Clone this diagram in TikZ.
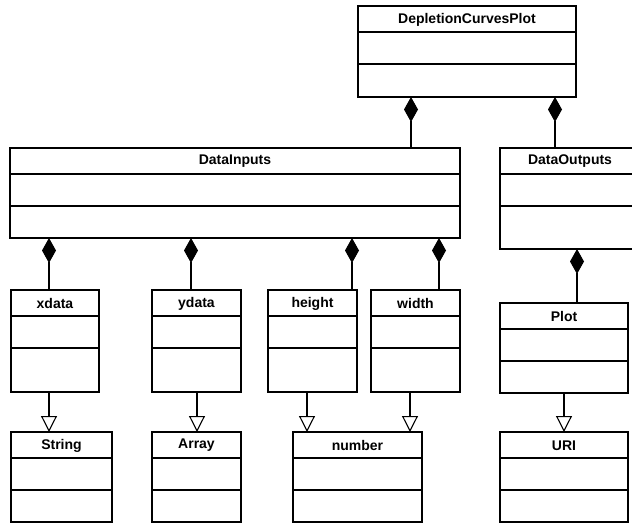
\documentclass[tikz,border=0pt]{standalone}
\usepackage{fontspec}
\setmainfont{Liberation Sans}
\usetikzlibrary{positioning, calc, arrows.meta}

\begin{document}
\begin{tikzpicture}[x=1pt,y=-1pt,line width=1.1pt,cls/.style={draw, rectangle, inner sep=0pt, outer sep=0pt, anchor=north west},ttl/.style={font=\fontsize{14}{16}\selectfont\bfseries, inner sep=0pt},comp/.style={{Diamond[length=25pt,width=14pt]}-},gen/.style={-{Triangle[open,length=16pt,width=16pt]}}]
\clip (0,0) rectangle (632,523); \fill[white] (0,0) rectangle (632,523);
% classes: name/title/left/top/right/bottom
\foreach \nm/\lbl/\xa/\ya/\xb/\yb in {dcp/DepletionCurvesPlot/358/6/576/97, din/DataInputs/10/148/460/238, dout/DataOutputs/500/148/640/249, xdata/xdata/11/290/99/392, ydata/ydata/152/290/241/392, height/height/268/290/357/392, width/width/371/290/460/392, plot/Plot/500/303/628/393, string/String/11/432/112/522, array/Array/152/432/241/522, number/number/293/432/422/522, uri/URI/500/432/628/522}
{
	\node[cls, minimum width={\xb-\xa}, minimum height={\yb-\ya}] (\nm) at (\xa,\ya) {};
	\node[ttl] (\nm-t) at ($(\nm.north)+(0,13.5)$) {\lbl};
	\draw ($(\nm.north west)+(0,26)$) -- ($(\nm.north east)+(0,26)$); \draw ($(\nm.north west)+(0,58)$) -- ($(\nm.north east)+(0,58)$);
}
% composition
\foreach \p/\c/\xx in {dcp/din/411, dcp/dout/555, din/xdata/49, din/ydata/191, din/height/352, din/width/439, dout/plot/577}
	\draw[comp] (\p.south -| \xx,0) -- (\c.north -| \xx,0);
% generalization
\foreach \c/\p/\xx in {xdata/string/49, ydata/array/197, height/number/307, width/number/410, plot/uri/564}
	\draw[gen] (\c.south -| \xx,0) -- (\p.north -| \xx,0);
\end{tikzpicture}
\end{document}
